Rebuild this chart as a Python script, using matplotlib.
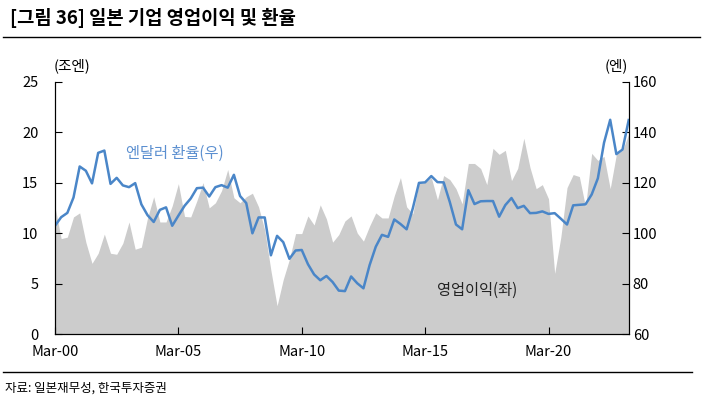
import matplotlib
matplotlib.use("Agg")
import matplotlib.pyplot as plt
import numpy as np

plt.rcParams['font.family'] = ['Noto Sans CJK KR', 'DejaVu Sans']

# quarterly, Mar-00 .. Jun-23
tick_labels = ["Mar-00", "Mar-05", "Mar-10", "Mar-15", "Mar-20"]
tick_pos = [0, 20, 40, 60, 80]

# 영업이익 (조엔, left axis)
profit = [12.6, 9.45, 9.6, 11.6, 12.0, 9.1, 7.0, 8.0, 9.9, 8.0,
          7.9, 9.0, 11.1, 8.4, 8.6, 11.5, 13.6, 11.1, 11.1, 12.7,
          14.9, 11.65, 11.6, 13.2, 15.0, 12.5, 13.0, 14.2, 16.3, 13.5,
          13.0, 13.6, 13.95, 12.6, 10.3, 6.3, 2.8, 5.4, 7.4, 9.95,
          9.95, 11.7, 10.8, 12.8, 11.4, 9.1, 9.85, 11.2, 11.7, 10.0,
          9.2, 10.7, 12.0, 11.5, 11.5, 13.7, 15.5, 12.6, 11.9, 14.9,
          15.0, 15.5, 13.3, 15.7, 15.3, 14.4, 12.9, 16.9, 16.9, 16.4,
          14.8, 18.4, 17.8, 18.2, 15.2, 16.4, 19.4, 16.5, 14.4, 14.8,
          13.4, 6.0, 9.6, 14.5, 15.8, 15.6, 12.6, 17.9, 17.2, 17.6,
          14.4, 17.8, 18.2, 19.8]

# 엔달러 환율 (엔, right axis)
usdjpy = [102.9, 106.3, 108.0, 114.1, 126.4, 124.7, 119.7, 131.8, 132.7, 119.5,
          121.9, 118.9, 118.2, 119.8, 111.4, 107.1, 104.4, 109.2, 110.2, 102.9,
          106.9, 110.8, 113.7, 117.8, 118.0, 114.5, 118.2, 119.0, 118.0, 123.1,
          114.7, 111.9, 99.9, 106.2, 106.2, 91.2, 98.9, 96.4, 89.8, 93.1,
          93.3, 87.7, 83.6, 81.3, 83.0, 80.6, 77.2, 77.0, 82.8, 80.1,
          78.1, 87.3, 94.6, 99.3, 98.5, 105.4, 103.6, 101.5, 109.8, 119.9,
          120.1, 122.6, 120.2, 120.1, 112.3, 103.4, 101.5, 117.0, 111.5, 112.6,
          112.7, 112.7, 106.5, 111.1, 113.9, 109.9, 110.8, 107.9, 108.0, 108.6,
          107.6, 107.9, 105.7, 103.4, 111.0, 111.2, 111.4, 115.3, 121.7, 135.8,
          144.9, 131.3, 133.1, 144.8]

x = np.arange(len(profit))

fig = plt.figure(figsize=(7.05, 4.01), dpi=100)
ax = fig.add_axes([55 / 705, 67 / 401, 573.7 / 705, 252.3 / 401])

ax.fill_between(x, profit, 0, color="#cccccc", lw=0)
ax.set_xlim(0, len(x) - 1)
ax.set_ylim(0, 25)
ax.set_yticks([0, 5, 10, 15, 20, 25])
ax.set_xticks(tick_pos)
ax.set_xticklabels(tick_labels)
ax.spines["top"].set_visible(False)
ax.tick_params(axis="y", direction="in", length=5, pad=12, labelsize=10.5)
ax.tick_params(axis="x", direction="in", length=5, pad=8, labelsize=10.5)

ax2 = ax.twinx()
ax2.plot(x, usdjpy, color="#4a86c8", lw=1.8)
ax2.set_ylim(60, 160)
ax2.set_yticks([60, 80, 100, 120, 140, 160])
ax2.spines["top"].set_visible(False)
ax2.tick_params(axis="y", direction="in", length=5, pad=3, labelsize=10.5)

# unit labels
fig.text(72 / 705, 1 - 66 / 401, "(조엔)", ha="center", va="center", fontsize=10.5)
fig.text(616 / 705, 1 - 66 / 401, "(엔)", ha="center", va="center", fontsize=10.5)

# series labels
ax2.text(11.5, 131.5, "엔달러 환율(우)", color="#5b8fd0", fontsize=11, va="center")
ax.text(68.5, 4.3, "영업이익(좌)", color="#222222", fontsize=11, ha="center", va="center")

# title and lines
fig.text(10 / 705, 1 - 18 / 401, "[그림 36] 일본 기업 영업이익 및 환율",
         fontsize=13.5, fontweight="bold", va="center")
fig.add_artist(plt.Line2D([3 / 705, 700 / 705], [1 - 37 / 401] * 2, color="black", lw=1))
fig.add_artist(plt.Line2D([3 / 705, 692 / 705], [1 - 372 / 401] * 2, color="black", lw=1))
fig.text(5 / 705, 1 - 388 / 401, "자료: 일본재무성, 한국투자증권", fontsize=9, va="center")

fig.savefig("out.png", dpi=100)
